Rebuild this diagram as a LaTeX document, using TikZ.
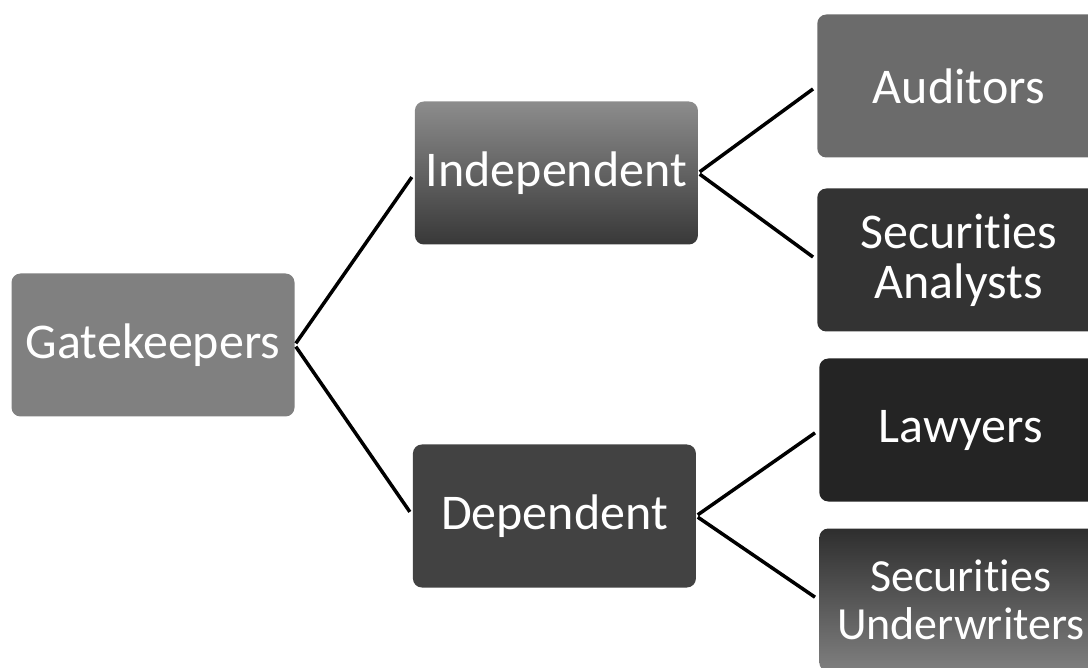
\documentclass[tikz,border=0pt]{standalone}
\usepackage{fontspec}
\setmainfont{Carlito}[Ligatures=NoCommon]
\usetikzlibrary{positioning}
\tikzstyle{block}=[draw=none,rectangle,rounded corners=9pt,text=white,align=center,minimum width=283pt,minimum height=143pt,inner sep=2pt]
\tikzstyle{every node}=[font=\fontsize{50}{50}\selectfont]
\tikzstyle{link}=[line width=3.5pt,shorten <=2pt,shorten >=5pt]

\begin{document}
\begin{tikzpicture}[x=1pt, y=-1pt]
            \useasboundingbox (0,0) rectangle (1088,668);
            \clip (0,0) rectangle (1088,668);
            \node[block, fill=black!50] (gate) at (153,345) {Gatekeepers};
            \node[block, top color=black!45, bottom color=black!78, right=120pt of gate, yshift=172pt] (indep) {Independent};
            \node[block, fill=black!74, right=118pt of gate, yshift=-171pt] (dep) {Dependent};
            \node[block, fill=black!58, right=119pt of indep, yshift=87pt] (aud) {Auditors};
            \node[block, fill=black!80, right=119pt of indep, yshift=-87pt] (anal) {Securities\\Analysts};
            \node[block, fill=black!86, right=123pt of dep, yshift=86pt] (law) {Lawyers};
            \node[block, top color=black!82, bottom color=black!50, right=123pt of dep, yshift=-84pt,
                  font=\fontsize{46}{48}\selectfont] (under) {Securities\\Underwriters};
            \draw[link] (gate.east) -- (indep.west);
            \draw[link] (gate.east) -- (dep.west);
            \draw[link] (indep.east) -- (aud.west);
            \draw[link] (indep.east) -- (anal.west);
            \draw[link] (dep.east) -- (law.west);
            \draw[link] (dep.east) -- (under.west);
        \end{tikzpicture}
\end{document}
